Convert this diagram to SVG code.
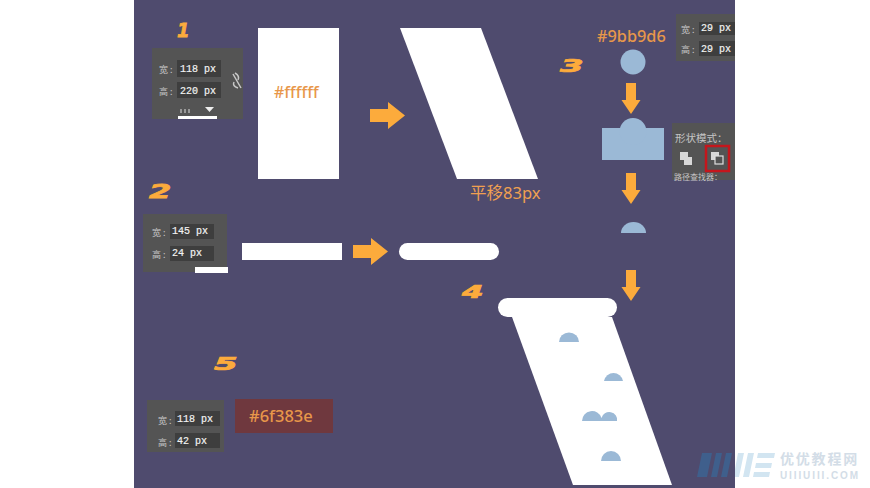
<svg xmlns="http://www.w3.org/2000/svg" width="870" height="488" viewBox="0 0 870 488">
<style>
.panel{fill:#545454}
.input{fill:#3e3e3e}
.lbl{font:9px "Noto Sans CJK SC","Noto Sans",sans-serif;fill:#c4c4c4}
.val{font:10px "Liberation Mono",monospace;fill:#f2f2f2;stroke:#f2f2f2;stroke-width:.2}
.hex{font-family:"Noto Sans","Open Sans",sans-serif;font-weight:500;fill:#e8974a}
.cn{font-family:"Noto Sans","Noto Sans CJK SC",sans-serif;fill:#f0a050}
.num{font:italic 900 20px "DejaVu Sans",sans-serif;fill:#fcab3c;stroke:#fcab3c;stroke-width:.8}
.w{fill:#fff}
.blue{fill:#9bb9d6}
.arrow{fill:#fcab3c}
.wbar{fill:#d2e5f1}
.dbar{fill:#3f5f8c}
</style>
<defs>
<path id="arrowR" d="M0,7H18V0L35,13.500L18,27V20H0Z"/>
<path id="arrowD" d="M5,0H15V17H19.500L10,31L0.500,17H5Z"/>
</defs>
<rect x="0" y="0" width="870" height="488" fill="#fff"/>
<rect id="background" x="134" y="0" width="601" height="488" fill="#4f4b6e"/>

<g id="step-labels">
<text class="num" transform="translate(177 37) scale(0.9 1)">1</text>
<text class="num" transform="translate(149 198) scale(1.6 0.95)">2</text>
<text class="num" transform="translate(560 72) scale(1.7 0.9)">3</text>
<text class="num" transform="translate(462 298) scale(1.55 0.9)">4</text>
<text class="num" transform="translate(214 370) scale(1.7 0.9)">5</text>
</g>

<g id="panel-1">
<rect class="panel" x="152" y="48" width="91" height="71"/>
<rect class="input" x="177" y="60" width="44" height="17"/>
<rect class="input" x="177" y="82" width="44" height="16"/>
<text class="lbl" x="159" y="73">宽 :</text>
<text class="lbl" x="159" y="95">高 :</text>
<text class="val" x="180" y="72">118 px</text>
<text class="val" x="180" y="94">220 px</text>
<path d="M233,74L241,88M235,73Q240,76 238,80M234,82Q232,86 238,88" fill="none" stroke="#c8c8c8" stroke-width="1.500"/>
<path d="M205,107H214L209.500,112Z" fill="#eee"/>
<path d="M181,109V113M185,109V113M189,109V113" stroke="#ddd" stroke-width="1"/>
<rect class="w" x="178" y="116" width="39" height="3"/>
</g>

<g id="panel-2">
<rect class="panel" x="143" y="214" width="84" height="58"/>
<rect class="input" x="170" y="224" width="44" height="15"/>
<rect class="input" x="170" y="246" width="44" height="15"/>
<text class="lbl" x="152" y="236">宽 :</text>
<text class="lbl" x="152" y="258">高 :</text>
<text class="val" x="172" y="234">145 px</text>
<text class="val" x="172" y="256">24 px</text>
<rect class="w" x="195" y="267" width="33" height="6"/>
</g>

<g id="panel-5">
<rect class="panel" x="147" y="400" width="77" height="52"/>
<rect class="input" x="175" y="411" width="45" height="15"/>
<rect class="input" x="175" y="433" width="45" height="15"/>
<text class="lbl" x="158" y="424">宽 :</text>
<text class="lbl" x="158" y="446">高 :</text>
<text class="val" x="177" y="422">118 px</text>
<text class="val" x="177" y="444">42 px</text>
</g>

<g id="panel-3">
<rect class="panel" x="676" y="14" width="59" height="47"/>
<rect class="input" x="699" y="22" width="36" height="13"/>
<rect class="input" x="699" y="41" width="36" height="15"/>
<text class="lbl" x="681" y="33">宽 :</text>
<text class="lbl" x="681" y="53">高 :</text>
<text class="val" x="701" y="31">29 px</text>
<text class="val" x="701" y="52">29 px</text>
</g>

<g id="panel-shape-mode">
<rect class="panel" x="672" y="123" width="63" height="57"/>
<text class="lbl" x="675" y="142" style="font-size:10.500px">形状模式：</text>
<path d="M680,152H688V157H692V165H684V160H680Z" fill="#d8d8d8"/>
<rect x="706" y="146" width="23" height="25" fill="none" stroke="#c4161c" stroke-width="2.500"/>
<rect x="711" y="152" width="8" height="8" fill="#d8d8d8"/>
<rect x="715" y="156" width="8" height="8" fill="#545454" stroke="#e0e0e0" stroke-width="1.200"/>
<text class="lbl" x="674" y="180" style="font-size:8px">路径查找器：</text>
</g>

<g id="rect-white">
<rect class="w" x="258" y="28" width="81" height="151"/>
<text class="hex" x="274" y="98" font-size="16">#ffffff</text>
</g>

<g id="parallelogram">
<path class="w" d="M400,28H481L538,179H457Z"/>
<text class="cn" x="470" y="199" font-size="16.500">平移83px</text>
</g>

<g id="bar"><rect class="w" x="242" y="243" width="100" height="17"/></g>
<g id="rounded-bar"><rect class="w" x="399" y="243" width="100" height="17" rx="8.500"/></g>

<g id="circle-blue">
<text class="hex" x="597" y="42" font-size="16.300">#9bb9d6</text>
<circle class="blue" cx="633" cy="62" r="12.500"/>
</g>

<g id="merge-shape">
<rect class="blue" x="602" y="128" width="62" height="32"/>
<circle class="blue" cx="633" cy="131.500" r="13.500"/>
</g>

<g id="half-dome"><path class="blue" d="M621,233A12.500,11 0 0 1 646,233Z"/></g>

<g id="red-box">
<rect x="235" y="399" width="98" height="34" fill="#6f383e"/>
<text class="hex" x="249" y="422" font-size="16.500">#6f383e</text>
</g>

<g id="final-shape">
<path class="w" d="M512,317H612L672,485H573Z"/>
<rect class="w" x="498" y="298" width="119" height="19" rx="9.500"/>
<path class="blue" d="M559,342A10,9.500 0 0 1 579,342Z"/>
<path class="blue" d="M604,381A9.700,10 0 0 1 623,381Z"/>
<path class="blue" d="M582,421A10,10 0 0 1 601.500,418A7.500,7 0 0 1 617,421Z"/>
<path class="blue" d="M601,461A10,10 0 0 1 621,461Z"/>
</g>

<g id="connectors">
<use href="#arrowR" class="arrow" x="370" y="102"/>
<use href="#arrowR" class="arrow" x="353" y="238"/>
<use href="#arrowD" class="arrow" x="621" y="83"/>
<use href="#arrowD" class="arrow" x="621" y="173"/>
<use href="#arrowD" class="arrow" x="621" y="270"/>
</g>

<g id="watermark">
<path class="dbar" d="M702,453H712L707,477H697ZM716,453H722L717,477H711ZM726,453H732L727,477H721Z"/>
<path class="wbar" d="M738,453H744L739,477H735V469ZM748,453H754L749,477H743ZM758,453H775L774,458H757ZM756,463H772L771,468H755ZM754,472H770L769,477H753Z"/>
<text x="780" y="464" font-family="Noto Sans CJK SC,sans-serif" font-size="14" font-weight="700" letter-spacing="1.800" fill="#d3dde7">优优教程网</text>
<text x="780" y="479" font-family="Liberation Sans,sans-serif" font-size="10" font-weight="700" fill="#d3dde7" textLength="78">UIIIUIII.COM</text>
</g>
</svg>
